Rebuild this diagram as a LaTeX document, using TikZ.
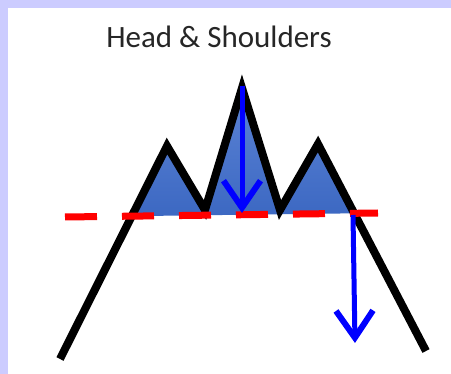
\documentclass[tikz,border=0pt]{standalone}
\usepackage{fontspec}
\setmainfont{Carlito}
\usetikzlibrary{arrows.meta, calc}
\definecolor{framelav}{RGB}{204,204,255}
\definecolor{neckred}{RGB}{255,0,0}
\definecolor{fillblue}{RGB}{60,104,194}
\definecolor{filltop}{RGB}{92,132,214}
\definecolor{movearrow}{RGB}{0,0,255}

\begin{document}
\begin{tikzpicture}[x=1pt, y=-1pt,
    price/.style={line width=8pt, black, line join=miter},
    neckline/.style={line width=7pt, neckred, dash pattern=on 32pt off 25pt},
    target/.style={line width=5pt, movearrow, -{Straight Barb[length=27pt, width=37pt, line width=6pt]}},
]
% frame
\fill[framelav] (0,0) rectangle (451,374);
\fill[white] (8,8) rectangle (451,374);
\useasboundingbox (0,0) rectangle (451,374);

% title
\node[font=\fontsize{31}{36}\selectfont, text=black!85, anchor=base] (title) at (219,48) {Head \& Shoulders};

% price path
\coordinate (start) at (60,359);
\coordinate (lshoulder) at (167,146);
\coordinate (lvalley) at (205,210);
\coordinate (head) at (242,88);
\coordinate (rvalley) at (280,210);
\coordinate (rshoulder) at (318,144);
\coordinate (finish) at (426,351);

% neckline ends
\coordinate (neckL) at (65,217);
\coordinate (neckR) at (378,213);
\coordinate (crossL) at (intersection of start--lshoulder and neckL--neckR);
\coordinate (crossR) at (intersection of rshoulder--finish and neckL--neckR);

% shaded area above neckline
\shade[top color=filltop, bottom color=fillblue]
    (crossL) -- (lshoulder) -- (lvalley) -- (head) -- (rvalley) -- (rshoulder) -- (crossR) -- cycle;

\draw[price] (start) -- (lshoulder) -- (lvalley) -- (head) -- (rvalley) -- (rshoulder) -- (finish);
\draw[neckline] (neckL) -- (neckR);

% measured move
\coordinate (headbase) at (242,213);
\coordinate (breakout) at (353,215);
\coordinate (objective) at (355,343);
\draw[target] ($(head)+(0,-2)$) -- (headbase);
\draw[target] (breakout) -- (objective);
\end{tikzpicture}
\end{document}
